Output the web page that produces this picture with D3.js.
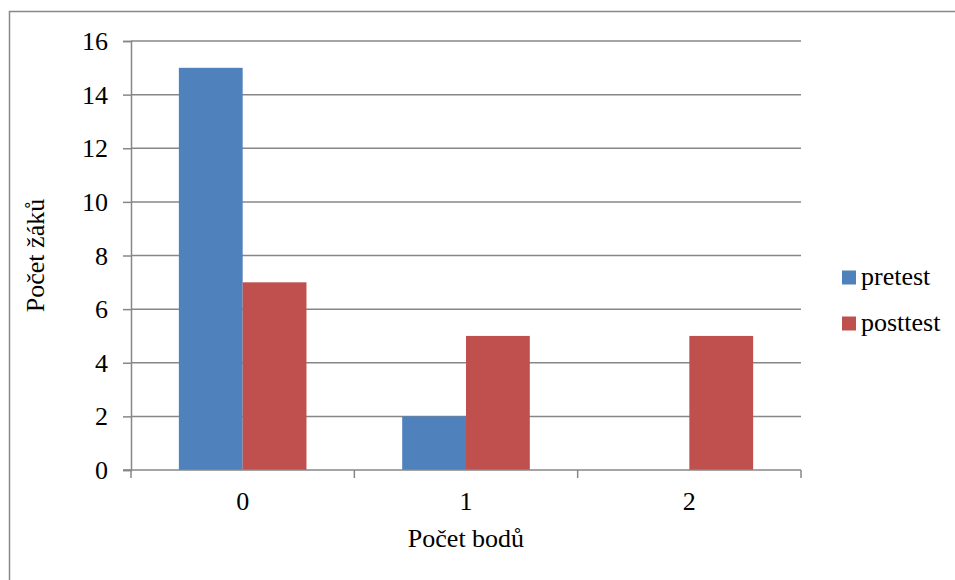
<!DOCTYPE html>
<html>
<head>
<meta charset="utf-8">
<script src="https://cdn.jsdelivr.net/npm/d3@7"></script>
</head>
<body style="margin:0">
<svg id="chart" width="955" height="580" style="display:block"></svg>
<script>
// Počet bodů (x categories)
const categories = ["0", "1", "2"];
// Series values: number of pupils per score
const seriesNames = ["pretest", "posttest"];
const pretest = [15, 2, 0];
const posttest = [7, 5, 5];
const yTicks = [0, 2, 4, 6, 8, 10, 12, 14, 16];
const colors = ["#4F81BD", "#C0504D"];

const series = [pretest, posttest];
const svg = d3.select("#chart");
const W = 955, H = 580;
const plot = { left: 131, right: 801, top: 41, bottom: 470 };
const gridColor = "#878787";
const fontSize = 26;
const fontFamily = "Times New Roman";

function addLabel(parent, txt) {
  return parent.append("text")
    .attr("font-family", fontFamily)
    .attr("font-size", fontSize)
    .attr("fill", "#000")
    .text(txt);
}

// outer frame (top and left edges visible within the page)
svg.append("path")
  .attr("d", `M9.5,${H + 2} L9.5,11.5 L${W + 2},11.5`)
  .attr("fill", "none").attr("stroke", "#888").attr("stroke-width", 1.5);

const x0 = d3.scaleBand().domain(categories).range([plot.left, plot.right]).padding(0);
const barW = x0.bandwidth() / (2 + 1.5);         // gap width 150%
const x1 = d3.scaleBand().domain(seriesNames).range([0, barW * 2]).padding(0);
const y = d3.scaleLinear().domain([0, 16]).range([plot.bottom, plot.top]);

// horizontal gridlines
svg.append("g").selectAll("line").data(yTicks.filter(t => t > 0)).join("line")
  .attr("x1", plot.left).attr("x2", plot.right)
  .attr("y1", d => y(d)).attr("y2", d => y(d))
  .attr("stroke", gridColor).attr("stroke-width", 1.5);

// bars
const groups = svg.append("g").selectAll("g").data(categories).join("g")
  .attr("transform", c => `translate(${x0(c) + (x0.bandwidth() - barW * 2) / 2},0)`);
groups.selectAll("rect")
  .data((c, i) => seriesNames.map((s, k) => ({ s, k, v: series[k][i] })))
  .join("rect")
  .attr("x", d => x1(d.s))
  .attr("width", x1.bandwidth())
  .attr("y", d => y(d.v))
  .attr("height", d => y(0) - y(d.v))
  .attr("fill", d => colors[d.k]);

// y axis: line and ticks from d3.axisLeft, labels added separately
const yAxis = d3.axisLeft(y).tickValues(yTicks).tickSize(8).tickFormat("");
const gy = svg.append("g").attr("transform", `translate(${plot.left},0)`).call(yAxis);
gy.select(".domain").attr("stroke", gridColor).attr("stroke-width", 1.5);
gy.selectAll(".tick line").attr("stroke", gridColor).attr("stroke-width", 1.5);
yTicks.forEach(t => {
  addLabel(svg, String(t))
    .attr("x", plot.left - 23).attr("y", y(t) + 9)
    .attr("text-anchor", "end");
});

// x axis: ticks at band boundaries, labels at band centres
const gx = svg.append("g");
gx.append("line")
  .attr("x1", plot.left - 8).attr("x2", plot.right)
  .attr("y1", plot.bottom).attr("y2", plot.bottom)
  .attr("stroke", gridColor).attr("stroke-width", 1.5);
const boundaries = categories.map(c => x0(c)).concat([x0(categories[categories.length - 1]) + x0.bandwidth()]);
gx.selectAll(".xt").data(boundaries).join("line").attr("class", "xt")
  .attr("x1", d => d).attr("x2", d => d)
  .attr("y1", plot.bottom).attr("y2", plot.bottom + 8)
  .attr("stroke", gridColor).attr("stroke-width", 1.5);
categories.forEach(c => {
  addLabel(svg, c)
    .attr("x", x0(c) + x0.bandwidth() / 2).attr("y", 510)
    .attr("text-anchor", "middle");
});

// axis titles
addLabel(svg, "Počet bodů")
  .attr("x", (plot.left + plot.right) / 2).attr("y", 547)
  .attr("text-anchor", "middle");
addLabel(svg, "Počet žáků")
  .attr("transform", `translate(44,${(plot.top + plot.bottom) / 2}) rotate(-90)`)
  .attr("text-anchor", "middle");

// legend
seriesNames.forEach((s, i) => {
  const g = svg.append("g").attr("transform", `translate(842,${270 + i * 46})`);
  g.append("rect").attr("width", 14).attr("height", 14).attr("y", 0.5).attr("fill", colors[i]);
  addLabel(g, s).attr("x", 19).attr("y", 15);
});
</script>
</body>
</html>
